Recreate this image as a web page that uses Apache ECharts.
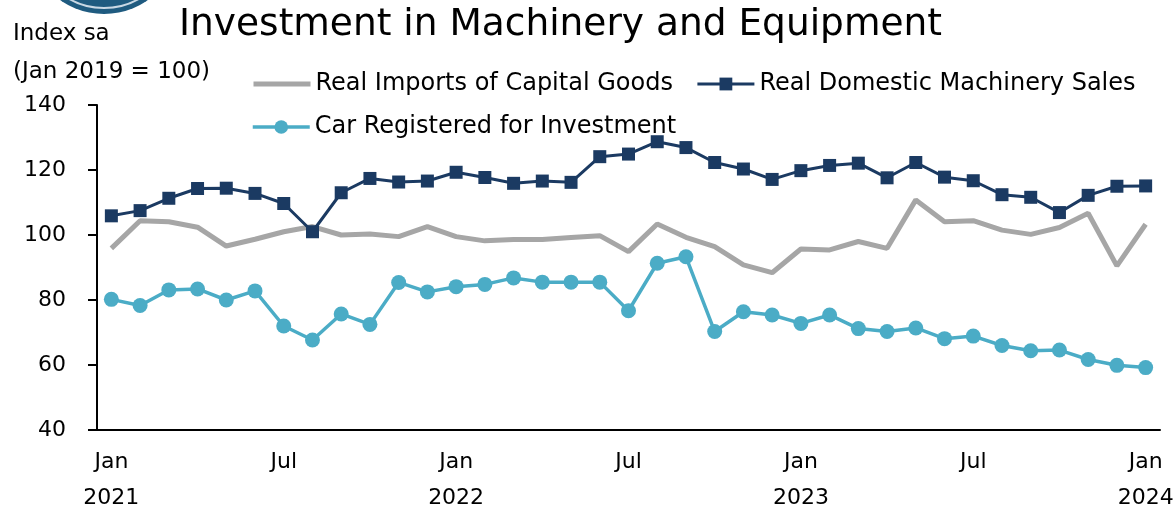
<!DOCTYPE html>
<html>
<head>
<meta charset="utf-8">
<script src="https://cdn.jsdelivr.net/npm/echarts@6/dist/echarts.min.js"></script>
<style>
  html, body { margin: 0; padding: 0; background: #fff; }
  #chart-container { width: 1173px; height: 509px; }
</style>
</head>
<body>
<div id="chart-container"></div>
<script>
var monthNames = ["Jan", "Feb", "Mar", "Apr", "May", "Jun", "Jul", "Aug", "Sep", "Oct", "Nov", "Dec"];
var years = [2021, 2022, 2023, 2024];

// Jan 2021 .. Jan 2024, monthly
var categories = [];
years.forEach(function (y) {
  monthNames.forEach(function (m) {
    if (y < 2024 || m === "Jan") categories.push(m + " " + y);
  });
});

var importsCapital = [
  95.9, 104.4, 104.1, 102.4, 96.6, 98.7, 101.0, 102.6, 100.0, 100.3, 99.5, 102.6,
  99.5, 98.2, 98.6, 98.6, 99.2, 99.8, 94.9, 103.4, 99.3, 96.4, 90.8, 88.4,
  95.7, 95.4, 98.0, 95.9, 110.8, 104.1, 104.4, 101.5, 100.2, 102.3, 106.7, 90.5,
  103.3
];

var machinerySales = [
  105.9, 107.5, 111.3, 114.3, 114.4, 112.8, 109.7, 101.0, 113.0, 117.4, 116.3, 116.6,
  119.3, 117.7, 115.9, 116.6, 116.2, 124.1, 124.9, 128.7, 126.9, 122.3, 120.3, 117.1,
  119.8, 121.4, 122.1, 117.6, 122.3, 117.8, 116.7, 112.4, 111.6, 106.9, 112.2, 115.0,
  115.1
];

var carRegistered = [
  80.2, 78.3, 83.1, 83.4, 80.0, 82.8, 72.0, 67.7, 75.7, 72.5, 85.4, 82.5,
  84.1, 84.8, 86.8, 85.5, 85.5, 85.5, 76.7, 91.3, 93.3, 70.3, 76.4, 75.4,
  72.8, 75.4, 71.2, 70.3, 71.4, 68.1, 68.9, 66.0, 64.4, 64.6, 61.7, 59.9,
  59.2
];

var FONT = "DejaVu Sans";

var GRAY = "#a6a6a6";
var NAVY = "#1b3a62";
var CYAN = "#4bacc6";

var dom = document.getElementById("chart-container");
var myChart = echarts.init(dom, null, { renderer: "canvas" });

var legendText = { fontFamily: FONT, fontSize: 24, color: "#000" };

var option = {
  animation: false,
  textStyle: { fontFamily: FONT, color: "#000" },
  title: {
    text: "Investment in Machinery and Equipment",
    left: 174,
    top: 1,
    textStyle: { fontFamily: FONT, fontSize: 37.5, fontWeight: "normal", color: "#000" }
  },
  graphic: [
    // partial logo peeking in at the top-left
    {
      type: "circle",
      shape: { cx: 104, cy: -62, r: 76 },
      style: { fill: "#1f5b80" }
    },
    {
      type: "circle",
      shape: { cx: 104, cy: -62, r: 70 },
      style: { fill: "none", stroke: "#c9d8e4", lineWidth: 2 }
    },
    {
      type: "text",
      left: 13,
      top: 23,
      style: { text: "Index sa", font: "23px " + FONT, fill: "#000" }
    },
    {
      type: "text",
      left: 13,
      top: 61,
      style: { text: "(Jan 2019 = 100)", font: "23px " + FONT, fill: "#000" }
    }
  ],
  legend: [
    {
      left: 246,
      top: 67,
      itemWidth: 57,
      itemHeight: 16,
      itemGap: 23,
      textStyle: legendText,
      data: [
        { name: "Real Imports of Capital Goods", itemStyle: { opacity: 0 }, lineStyle: { width: 5, color: GRAY } },
        { name: "Real Domestic Machinery Sales", lineStyle: { width: 3, color: NAVY } }
      ]
    },
    {
      left: 246,
      top: 110,
      itemWidth: 57,
      itemHeight: 17,
      textStyle: legendText,
      data: [
        { name: "Car Registered for Investment", lineStyle: { width: 3.5, color: CYAN } }
      ]
    }
  ],
  grid: { left: 97, right: 13, top: 105, bottom: 79, outerBoundsMode: "none", containLabel: false },
  xAxis: {
    type: "category",
    data: categories,
    boundaryGap: true,
    axisLine: { lineStyle: { color: "#000", width: 2 } },
    axisTick: { interval: 5, length: 9, lineStyle: { color: "#000", width: 2 } },
    axisLabel: {
      interval: 5,
      margin: 14,
      fontFamily: FONT,
      fontSize: 22,
      lineHeight: 36,
      color: "#000",
      formatter: function (v) {
        var p = v.split(" ");
        return p[0] === "Jan" ? p[0] + "\n" + p[1] : p[0];
      }
    },
    splitLine: { show: false }
  },
  yAxis: {
    type: "value",
    min: 40,
    max: 140,
    interval: 20,
    axisLine: { show: true, lineStyle: { color: "#000", width: 2 } },
    axisTick: { show: true, length: 9, lineStyle: { color: "#000", width: 2 } },
    axisLabel: { fontFamily: FONT, fontSize: 22, color: "#000", margin: 31 },
    splitLine: { show: false }
  },
  series: [
    {
      name: "Real Imports of Capital Goods",
      type: "line",
      data: importsCapital,
      symbol: "none",
      lineStyle: { color: GRAY, width: 5 },
      itemStyle: { color: GRAY }
    },
    {
      name: "Real Domestic Machinery Sales",
      type: "line",
      data: machinerySales,
      symbol: "rect",
      symbolSize: 13,
      lineStyle: { color: NAVY, width: 3 },
      itemStyle: { color: NAVY }
    },
    {
      name: "Car Registered for Investment",
      type: "line",
      data: carRegistered,
      symbol: "circle",
      symbolSize: 15,
      lineStyle: { color: CYAN, width: 3.5 },
      itemStyle: { color: CYAN }
    }
  ]
};

myChart.setOption(option);
window.addEventListener("resize", myChart.resize);
</script>
</body>
</html>
